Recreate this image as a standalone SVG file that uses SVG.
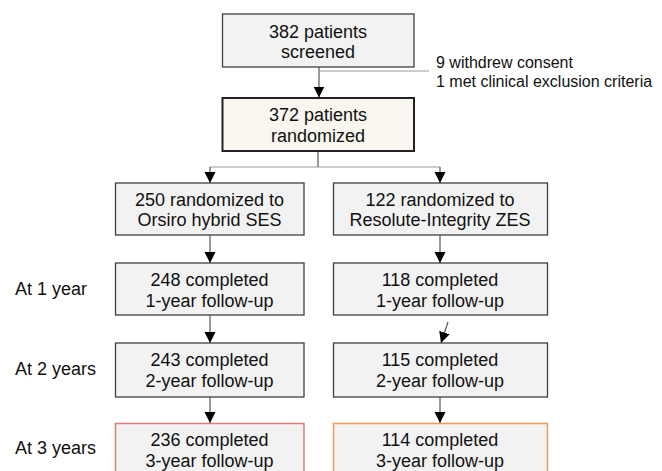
<svg xmlns="http://www.w3.org/2000/svg" width="662" height="471" viewBox="0 0 662 471">
<style>
.box{fill:#f2f2f2;stroke:#404040;stroke-width:1.3}
.t{font-family:"Liberation Sans",Arial,sans-serif;font-size:18px;fill:#111;text-anchor:middle}
.lab{font-family:"Liberation Sans",Arial,sans-serif;font-size:18px;fill:#111}
.ex{font-family:"Liberation Sans",Arial,sans-serif;font-size:16px;fill:#111}
.c{stroke:#555;stroke-width:1.2;fill:none}
.h{stroke:#999;stroke-width:1.2;fill:none}
</style>
<defs>
<marker id="ah" markerUnits="userSpaceOnUse" markerWidth="12" markerHeight="12" viewBox="0 0 12 12" refX="11" refY="6" orient="auto">
<path d="M0,0.5 L11,6 L0,11.5 Z" fill="#000"/>
</marker>
</defs>
<rect width="662" height="471" fill="#fff"/>
<g id="connectors">
<line class="c" x1="319" y1="67" x2="319" y2="97.5" marker-end="url(#ah)"/>
<line class="h" x1="319" y1="71" x2="429" y2="71"/>
<line class="c" x1="318" y1="151" x2="318" y2="167"/>
<line class="h" x1="210" y1="167" x2="440" y2="167"/>
<line class="c" x1="210" y1="167" x2="210" y2="183" marker-end="url(#ah)"/>
<line class="c" x1="440" y1="167" x2="440" y2="183" marker-end="url(#ah)"/>
<line class="c" x1="210" y1="235" x2="210" y2="263" marker-end="url(#ah)"/>
<line class="c" x1="440" y1="235" x2="440" y2="263" marker-end="url(#ah)"/>
<line class="c" x1="210" y1="315" x2="210" y2="343" marker-end="url(#ah)"/>
<line class="c" x1="448" y1="322" x2="441" y2="343" marker-end="url(#ah)"/>
<line class="c" x1="210" y1="397" x2="210" y2="423" marker-end="url(#ah)"/>
<line class="c" x1="440" y1="397" x2="440" y2="423" marker-end="url(#ah)"/>
</g>
<g id="screened">
<rect class="box" x="222.5" y="14" width="191.5" height="53"/>
<text class="t" x="318" y="38">382 patients</text>
<text class="t" x="318" y="58">screened</text>
</g>
<g id="exclusion">
<text class="ex" x="436" y="68">9 withdrew consent</text>
<text class="ex" x="436" y="87">1 met clinical exclusion criteria</text>
</g>
<g id="randomized">
<rect x="222.5" y="98" width="191.5" height="53" fill="#f8f6ef" stroke="#222" stroke-width="2"/>
<text class="t" x="318" y="121">372 patients</text>
<text class="t" x="318" y="142">randomized</text>
</g>
<g id="orsiro">
<rect class="box" x="115.5" y="183" width="188.5" height="52"/>
<text class="t" x="209.5" y="206">250 randomized to</text>
<text class="t" x="209.5" y="226">Orsiro hybrid SES</text>
</g>
<g id="resolute">
<rect class="box" x="333.5" y="183" width="214" height="52"/>
<text class="t" x="440" y="206">122 randomized to</text>
<text class="t" x="440" y="226">Resolute-Integrity ZES</text>
</g>
<g id="labels">
<text class="lab" x="15" y="295">At 1 year</text>
<text class="lab" x="15" y="375">At 2 years</text>
<text class="lab" x="15" y="454">At 3 years</text>
</g>
<g id="o1">
<rect class="box" x="115.5" y="263" width="188.5" height="52"/>
<text class="t" x="209.5" y="286">248 completed</text>
<text class="t" x="209.5" y="307">1-year follow-up</text>
</g>
<g id="r1">
<rect class="box" x="333.5" y="263" width="214" height="52"/>
<text class="t" x="440" y="286">118 completed</text>
<text class="t" x="440" y="307">1-year follow-up</text>
</g>
<g id="o2">
<rect class="box" x="115.5" y="343" width="188.5" height="54"/>
<text class="t" x="209.5" y="366">243 completed</text>
<text class="t" x="209.5" y="387">2-year follow-up</text>
</g>
<g id="r2">
<rect class="box" x="333.5" y="343" width="214" height="54"/>
<text class="t" x="440" y="366">115 completed</text>
<text class="t" x="440" y="387">2-year follow-up</text>
</g>
<g id="o3">
<rect x="115.5" y="423.5" width="188.5" height="60" fill="#f2f2f2" stroke="#dc7d76" stroke-width="1.5"/>
<text class="t" x="209.5" y="446">236 completed</text>
<text class="t" x="209.5" y="467">3-year follow-up</text>
</g>
<g id="r3">
<rect x="333.5" y="423.5" width="214" height="60" fill="#f2f2f2" stroke="#ee9a5a" stroke-width="1.5"/>
<text class="t" x="440" y="446">114 completed</text>
<text class="t" x="440" y="467">3-year follow-up</text>
</g>
</svg>
